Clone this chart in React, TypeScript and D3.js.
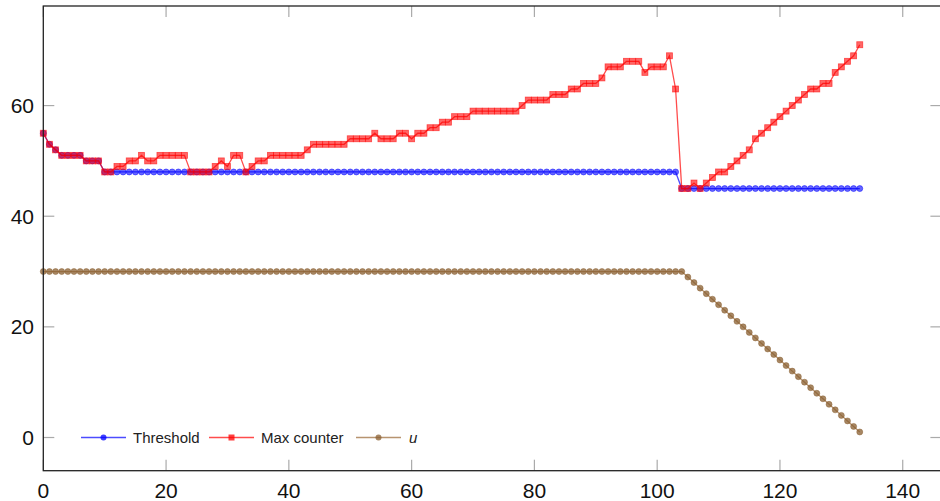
import React, { useEffect, useRef } from 'react';
import * as d3 from 'd3';

// values, one per step (0..133)
const threshold = [
  55, 53, 52, 51, 51, 51, 51, 50, 50, 50,
  48, 48, 48, 48, 48, 48, 48, 48, 48, 48,
  48, 48, 48, 48, 48, 48, 48, 48, 48, 48,
  48, 48, 48, 48, 48, 48, 48, 48, 48, 48,
  48, 48, 48, 48, 48, 48, 48, 48, 48, 48,
  48, 48, 48, 48, 48, 48, 48, 48, 48, 48,
  48, 48, 48, 48, 48, 48, 48, 48, 48, 48,
  48, 48, 48, 48, 48, 48, 48, 48, 48, 48,
  48, 48, 48, 48, 48, 48, 48, 48, 48, 48,
  48, 48, 48, 48, 48, 48, 48, 48, 48, 48,
  48, 48, 48, 48, 45, 45, 45, 45, 45, 45,
  45, 45, 45, 45, 45, 45, 45, 45, 45, 45,
  45, 45, 45, 45, 45, 45, 45, 45, 45, 45,
  45, 45, 45, 45,
];

const maxCounter = [
  55, 53, 52, 51, 51, 51, 51, 50, 50, 50,
  48, 48, 49, 49, 50, 50, 51, 50, 50, 51,
  51, 51, 51, 51, 48, 48, 48, 48, 49, 50,
  49, 51, 51, 48, 49, 50, 50, 51, 51, 51,
  51, 51, 51, 52, 53, 53, 53, 53, 53, 53,
  54, 54, 54, 54, 55, 54, 54, 54, 55, 55,
  54, 55, 55, 56, 56, 57, 57, 58, 58, 58,
  59, 59, 59, 59, 59, 59, 59, 59, 60, 61,
  61, 61, 61, 62, 62, 62, 63, 63, 64, 64,
  64, 65, 67, 67, 67, 68, 68, 68, 66, 67,
  67, 67, 69, 63, 45, 45, 46, 45, 46, 47,
  48, 48, 49, 50, 51, 52, 54, 55, 56, 57,
  58, 59, 60, 61, 62, 63, 63, 64, 64, 66,
  67, 68, 69, 71,
];

const uValues = [
  30, 30, 30, 30, 30, 30, 30, 30, 30, 30,
  30, 30, 30, 30, 30, 30, 30, 30, 30, 30,
  30, 30, 30, 30, 30, 30, 30, 30, 30, 30,
  30, 30, 30, 30, 30, 30, 30, 30, 30, 30,
  30, 30, 30, 30, 30, 30, 30, 30, 30, 30,
  30, 30, 30, 30, 30, 30, 30, 30, 30, 30,
  30, 30, 30, 30, 30, 30, 30, 30, 30, 30,
  30, 30, 30, 30, 30, 30, 30, 30, 30, 30,
  30, 30, 30, 30, 30, 30, 30, 30, 30, 30,
  30, 30, 30, 30, 30, 30, 30, 30, 30, 30,
  30, 30, 30, 30, 30, 29, 28, 27, 26, 25,
  24, 23, 22, 21, 20, 19, 18, 17, 16, 15,
  14, 13, 12, 11, 10, 9, 8, 7, 6, 5,
  4, 3, 2, 1,
];

const xTicks = [0, 20, 40, 60, 80, 100, 120, 140];
const yTicks = [0, 20, 40, 60];

const seriesNames = ['Threshold', 'Max counter', 'u'];

export default function App() {
  const svgRef = useRef<SVGSVGElement | null>(null);

  useEffect(() => {
    if (!svgRef.current) return;
    const width = 940;
    const height = 501;
    const left = 43.3, right = 941.4, top = 6, bottom = 470.7;

    const svg = d3.select(svgRef.current);
    svg.selectAll('*').remove();
    svg.attr('width', width).attr('height', height);

    const x = d3.scaleLinear().domain([0, 146.3]).range([left, right]);
    const y = d3.scaleLinear().domain([-6, 78]).range([bottom, top]);
    const font = "'Liberation Sans', 'DejaVu Sans', sans-serif";

    // ticks (inside, on both sides)
    const tickLen = 11;
    const tg = svg.append('g').attr('stroke', '#aaa').attr('stroke-width', 1.2);
    xTicks.forEach(t => {
      tg.append('line').attr('x1', x(t)).attr('x2', x(t)).attr('y1', bottom).attr('y2', bottom - tickLen);
      tg.append('line').attr('x1', x(t)).attr('x2', x(t)).attr('y1', top).attr('y2', top + tickLen);
    });
    yTicks.forEach(t => {
      tg.append('line').attr('x1', left).attr('x2', left + tickLen).attr('y1', y(t)).attr('y2', y(t));
      tg.append('line').attr('x1', right).attr('x2', right - tickLen).attr('y1', y(t)).attr('y2', y(t));
    });

    // tick labels
    svg.append('g').selectAll('text').data(xTicks).enter().append('text')
      .attr('x', d => x(d)).attr('y', 497.5)
      .attr('text-anchor', 'middle')
      .style('font-family', font).style('font-size', '21px').style('fill', '#111')
      .text(d => d);
    svg.append('g').selectAll('text').data(yTicks).enter().append('text')
      .attr('x', 34).attr('y', d => y(d) + 7.5)
      .attr('text-anchor', 'end')
      .style('font-family', font).style('font-size', '21px').style('fill', '#111')
      .text(d => d);

    const line = d3.line<number>().x((_, i) => x(i)).y(d => y(d));

    // Threshold
    svg.append('path').datum(threshold).attr('d', line)
      .attr('fill', 'none').attr('stroke', '#0000ff').attr('stroke-opacity', 0.7).attr('stroke-width', 1.3);
    svg.append('g').selectAll('circle').data(threshold).enter().append('circle')
      .attr('cx', (_, i) => x(i)).attr('cy', d => y(d)).attr('r', 3)
      .attr('fill', '#0000ff').attr('fill-opacity', 0.6)
      .attr('stroke', '#0000ff').attr('stroke-opacity', 0.6).attr('stroke-width', 0.8);

    // Max counter
    svg.append('path').datum(maxCounter).attr('d', line)
      .attr('fill', 'none').attr('stroke', '#ff0000').attr('stroke-opacity', 0.7).attr('stroke-width', 1.3);
    svg.append('g').selectAll('rect').data(maxCounter).enter().append('rect')
      .attr('x', (_, i) => x(i) - 3).attr('y', d => y(d) - 3)
      .attr('width', 6).attr('height', 6)
      .attr('fill', '#ff0000').attr('fill-opacity', 0.6)
      .attr('stroke', '#ff0000').attr('stroke-opacity', 0.6).attr('stroke-width', 0.8);

    // u
    svg.append('path').datum(uValues).attr('d', line)
      .attr('fill', 'none').attr('stroke', '#996633').attr('stroke-opacity', 0.7).attr('stroke-width', 1.3);
    svg.append('g').selectAll('circle').data(uValues).enter().append('circle')
      .attr('cx', (_, i) => x(i)).attr('cy', d => y(d)).attr('r', 3)
      .attr('fill', '#8a5f30').attr('fill-opacity', 0.75)
      .attr('stroke', '#8a5f30').attr('stroke-opacity', 0.6).attr('stroke-width', 0.8);

    // frame
    svg.append('rect')
      .attr('x', left).attr('y', top).attr('width', right - left).attr('height', bottom - top)
      .attr('fill', 'none').attr('stroke', '#222').attr('stroke-width', 1.3);

    // legend
    const lg = svg.append('g').attr('transform', `translate(0, ${y(0)})`);
    const legendItems = [
      { name: seriesNames[0], x0: 81, tx: 133, color: '#0000ff', marker: 'circle', fill: '#0000ff' },
      { name: seriesNames[1], x0: 209, tx: 261, color: '#ff0000', marker: 'square', fill: '#ff0000' },
      { name: seriesNames[2], x0: 356, tx: 409, color: '#996633', marker: 'circle', fill: '#8a5f30' },
    ];
    legendItems.forEach(item => {
      lg.append('line').attr('x1', item.x0).attr('x2', item.x0 + 45).attr('y1', 0).attr('y2', 0)
        .attr('stroke', item.color).attr('stroke-opacity', 0.7).attr('stroke-width', 1.3);
      if (item.marker === 'circle') {
        lg.append('circle').attr('cx', item.x0 + 22.5).attr('cy', 0).attr('r', 3)
          .attr('fill', item.fill).attr('fill-opacity', 0.75);
      } else {
        lg.append('rect').attr('x', item.x0 + 19.5).attr('y', -3).attr('width', 6).attr('height', 6)
          .attr('fill', item.fill).attr('fill-opacity', 0.75);
      }
      lg.append('text').attr('x', item.tx).attr('y', 5)
        .style('font-family', font).style('font-size', '15px').style('fill', '#222')
        .style('font-style', item.name === 'u' ? 'italic' : 'normal')
        .text(item.name);
    });
  }, []);

  return (
    <div style={{ position: 'absolute', left: 0, top: 0 }}>
      <svg ref={svgRef} style={{ display: 'block' }}></svg>
    </div>
  );
}
